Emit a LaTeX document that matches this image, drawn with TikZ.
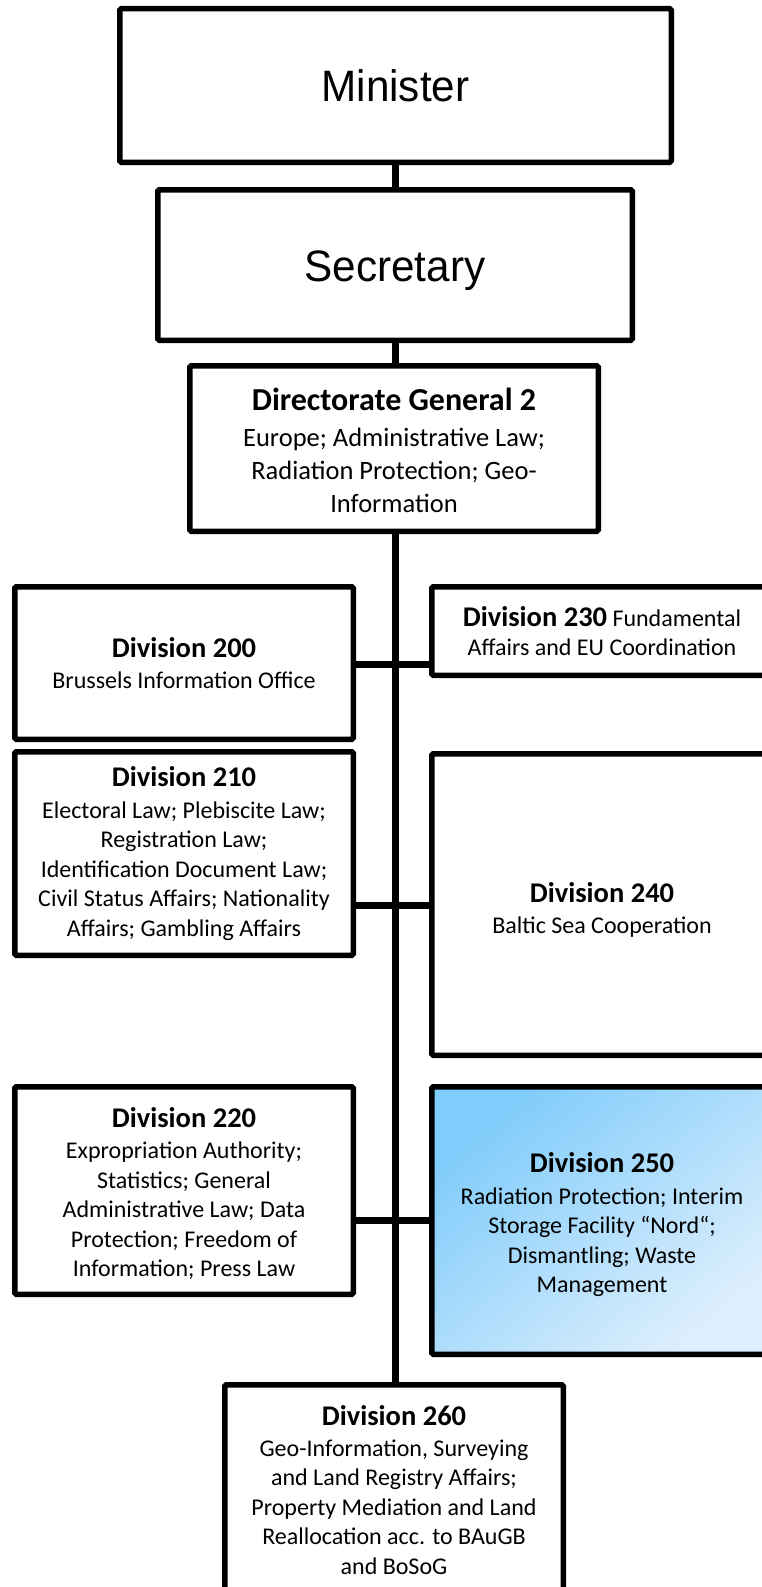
\documentclass[tikz,border=0pt]{standalone}
\usepackage{fontspec}
\setmainfont{Carlito}
\newfontfamily\titlefont{Liberation Sans}
\definecolor{skyA}{RGB}{128,204,250}
\definecolor{skyC}{RGB}{222,239,253}
\newcommand{\divhead}[1]{{\fontsize{28.5}{30}\selectfont\bfseries #1}}
\newcommand{\bigtitle}[1]{\scalebox{0.96}[1]{\titlefont\fontsize{44}{50}\selectfont #1}}
% lower a line of text without changing the box it occupies
\newcommand{\lowered}[2]{\raisebox{-#1}[\height][\depth]{#2}}
\tikzset{
  orgbox/.style={draw, line width=5.5pt, fill=white, inner sep=0pt, outer sep=0pt,
    rounded corners=1.5pt, align=center, font=\fontsize{24}{29.5}\selectfont},
  skybox/.style={orgbox, top color=skyA, bottom color=skyC, shading angle=40},
  trunk/.style={line width=7pt},
  branch/.style={line width=7pt}
}
\begin{document}
\begin{tikzpicture}[x=1pt,y=-1pt]
\useasboundingbox (0,0) rectangle (762,1587);
\clip (0,0) rectangle (762,1587);

% junction heights of the side branches
\coordinate (j1) at (395,664);
\coordinate (j2) at (395,905);
\coordinate (j3) at (395,1220);

% boxes
\node[orgbox, minimum width=551.5pt, minimum height=153.5pt] (min) at (395.5,85.5) {\bigtitle{Minister}};
\node[orgbox, minimum width=474.5pt, minimum height=150.5pt] (sec) at (395,265) {\lowered{6pt}{\bigtitle{Secretary}}};
\node[orgbox, minimum width=408.5pt, minimum height=165.5pt, font=\fontsize{26.5}{33}\selectfont] (dg) at (394,448.5)
  {\lowered{2pt}{\fontsize{32}{33}\selectfont\bfseries Directorate General 2}\\[3pt]\lowered{2pt}{Europe; Administrative Law;}\\\lowered{2pt}{Radiation Protection; Geo-}\\\lowered{2pt}{Information}};

\node[orgbox, minimum width=338.5pt, minimum height=152.5pt] (d200) at (184,663)
  {\divhead{Division 200}\\[2pt]Brussels Information Office};
\node[orgbox, minimum width=338.5pt, minimum height=203.5pt] (d210) at (184,853.5)
  {\divhead{Division 210}\\[2pt]Electoral Law; Plebiscite Law;\\Registration Law;\\Identification Document Law;\\Civil Status Affairs; Nationality\\Affairs; Gambling Affairs};
\node[orgbox, minimum width=338.5pt, minimum height=207.5pt] (d220) at (184,1190.5)
  {\lowered{3pt}{\divhead{Division 220}}\\[2pt]\lowered{3pt}{Expropriation Authority;}\\\lowered{3pt}{Statistics; General}\\\lowered{3pt}{Administrative Law; Data}\\\lowered{3pt}{Protection; Freedom of}\\\lowered{3pt}{Information; Press Law}};

\node[orgbox, minimum width=340.5pt, minimum height=88.5pt] (d230) at (602,631)
  {\divhead{Division 230} Fundamental\\Affairs and EU Coordination};
\node[orgbox, minimum width=340.5pt, minimum height=301.5pt] (d240) at (602,904.5)
  {\lowered{5.5pt}{\divhead{Division 240}}\\[2pt]\lowered{5.5pt}{Baltic Sea Cooperation}};
\node[skybox, minimum width=340.5pt, minimum height=267.5pt] (d250) at (602,1220.5)
  {\lowered{4.5pt}{\divhead{Division 250}}\\[2pt]\lowered{4.5pt}{Radiation Protection; Interim}\\\lowered{4.5pt}{Storage Facility “Nord“;}\\\lowered{4.5pt}{Dismantling; Waste}\\\lowered{4.5pt}{Management}};

\node[orgbox, minimum width=338.5pt, minimum height=210.5pt] (d260) at (394,1490)
  {\divhead{Division 260}\\[1pt]Geo-Information, Surveying\\and Land Registry Affairs;\\Property Mediation and Land\\Reallocation acc. to BAuGB\\and BoSoG};

% vertical chain
\draw[trunk] (min.south -| j1) -- (sec.north -| j1);
\draw[trunk] (sec.south -| j1) -- (dg.north -| j1);
\draw[trunk] (dg.south -| j1) -- (d260.north -| j1);

% side branches
\draw[branch] (j1 -| d200.east) -- (j1 -| d230.west);
\draw[branch] (j2 -| d210.east) -- (j2 -| d240.west);
\draw[branch] (j3 -| d220.east) -- (j3 -| d250.west);
\end{tikzpicture}
\end{document}
